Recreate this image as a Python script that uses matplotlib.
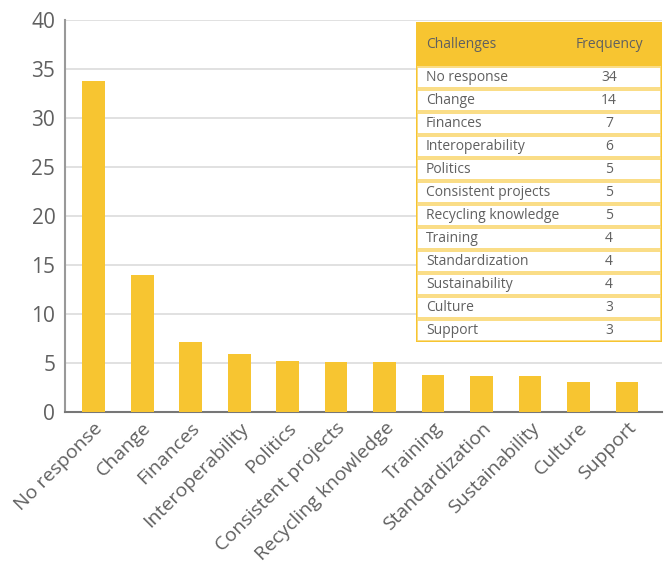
import matplotlib.pyplot as plt
from matplotlib.patches import Rectangle

plt.rcParams['font.family'] = ['Open Sans', 'DejaVu Sans']

challenges = ['No response', 'Change', 'Finances', 'Interoperability', 'Politics',
              'Consistent projects', 'Recycling knowledge', 'Training',
              'Standardization', 'Sustainability', 'Culture', 'Support']
bar_heights = [33.8, 14.0, 7.1, 5.9, 5.2, 5.1, 5.1, 3.8, 3.7, 3.7, 3.1, 3.1]
frequency = [34, 14, 7, 6, 5, 5, 5, 4, 4, 4, 3, 3]
yticks = [0, 5, 10, 15, 20, 25, 30, 35, 40]

yellow = '#F7C531'
text_grey = '#606060'

fig = plt.figure(figsize=(6.65, 5.81), dpi=100)
ax = fig.add_axes([65 / 665, 1 - 412 / 581, 597 / 665, 392 / 581])

x = list(range(len(challenges)))
ax.bar(x, bar_heights, width=0.47, color=yellow, zorder=3)
ax.set_xlim(-0.59, 11.72)
ax.set_ylim(0, 40)
ax.set_yticks(yticks)
ax.yaxis.grid(True, color='#dcdcdc', linewidth=1.2, zorder=0)
ax.set_axisbelow(True)
ax.set_xticks(x)
ax.set_xticklabels(challenges, rotation=45, ha='right', rotation_mode='anchor',
                   fontsize=14, color=text_grey)
ax.tick_params(axis='y', labelsize=15, labelcolor=text_grey, length=0, pad=7)
ax.tick_params(axis='x', length=0, pad=5)
for s in ['top', 'right']:
    ax.spines[s].set_visible(False)
ax.spines['left'].set_color('#999999')
ax.spines['left'].set_linewidth(1.5)
ax.spines['bottom'].set_color('#777777')
ax.spines['bottom'].set_linewidth(1.5)

# table drawn as an inset axes
tax = fig.add_axes([416 / 665, 1 - 342 / 581, 246 / 665, 320 / 581])
tax.set_xlim(0, 246)
tax.set_ylim(320, 0)
tax.axis('off')
header_h = 44
row_h = (320 - header_h) / len(challenges)
tax.add_patch(Rectangle((0, 0), 246, header_h, facecolor=yellow, edgecolor='none'))
tax.text(10, header_h / 2, 'Challenges', va='center', ha='left', fontsize=10, color=text_grey)
tax.text(193, header_h / 2, 'Frequency', va='center', ha='center', fontsize=10, color=text_grey)
for i, (name, f) in enumerate(zip(challenges, frequency)):
    y0 = header_h + i * row_h
    tax.add_patch(Rectangle((1, y0 + 1), 244, row_h - 2, facecolor='white',
                            edgecolor='#F9D770', linewidth=1.2))
    tax.text(10, y0 + row_h / 2, name, va='center', ha='left', fontsize=10, color=text_grey)
    tax.text(193, y0 + row_h / 2, str(f), va='center', ha='center', fontsize=10, color=text_grey)
tax.add_patch(Rectangle((0, 0), 246, 320, facecolor='none', edgecolor=yellow, linewidth=1.5))

fig.savefig('out.png', dpi=100)
